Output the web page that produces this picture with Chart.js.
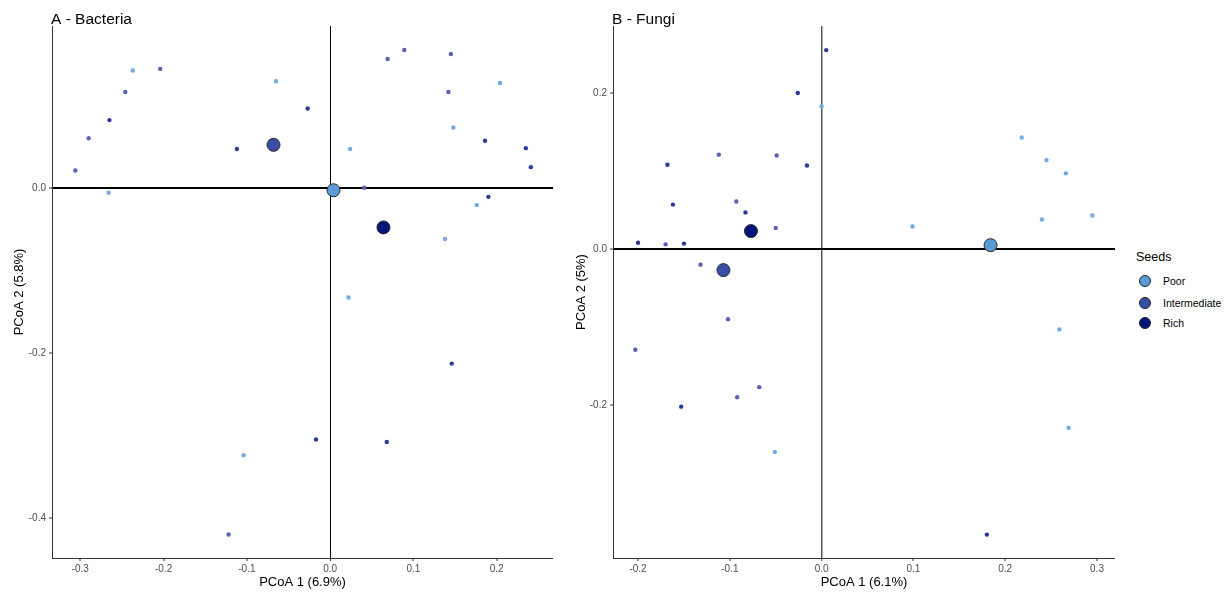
<!DOCTYPE html>
<html>
<head>
<meta charset="utf-8">
<script src="https://cdn.jsdelivr.net/npm/chart.js@4.4.1/dist/chart.umd.min.js"></script>
<style>
  body { margin: 0; background: #fff; font-family: "Liberation Sans", Arial, sans-serif; }
  #wrap { position: relative; width: 1230px; height: 593px; overflow: hidden; }
  canvas { position: absolute; top: 0; }
  #c1 { left: 0; }
  #c2 { left: 560px; }
  .leg { position: absolute; color: #000; white-space: nowrap; }
  .leg-title { left: 1136px; top: 250px; font-size: 12.5px; }
  .leg-item { left: 1139px; font-size: 10.5px; line-height: 12px; }
  .leg-item i { display: inline-block; width: 10px; height: 10px; border: 1px solid #222; border-radius: 50%; vertical-align: middle; margin-right: 12px; }
  .leg-item span { vertical-align: middle; }
</style>
</head>
<body>
<div id="wrap">
  <canvas id="c1" width="570" height="593"></canvas>
  <canvas id="c2" width="570" height="593"></canvas>
  <div class="leg leg-title">Seeds</div>
  <div class="leg leg-item" style="top:274px"><i style="background:#5b9bd5"></i><span>Poor</span></div>
  <div class="leg leg-item" style="top:296px"><i style="background:#3a4ea6"></i><span>Intermediate</span></div>
  <div class="leg leg-item" style="top:316px"><i style="background:#00157a"></i><span>Rich</span></div>
</div>
<script>
// ---- data ----
const groups = ['Poor', 'Intermediate', 'Rich'];

// A - Bacteria: samples, [PCoA1, PCoA2]
const bactPoor = [[-0.266, -0.006], [-0.237, 0.142], [-0.065, 0.129], [0.024, 0.047], [0.138, -0.062],
  [0.148, 0.073], [0.176, -0.021], [0.204, 0.127], [-0.104, -0.324], [0.022, -0.133]];
const bactInter = [[-0.306, 0.021], [-0.290, 0.060], [-0.246, 0.116], [-0.204, 0.144], [0.041, 0.000],
  [0.069, 0.156], [0.089, 0.167], [0.142, 0.116], [0.145, 0.162], [-0.122, -0.420]];
const bactRich = [[-0.265, 0.082], [-0.112, 0.047], [-0.027, 0.096], [0.186, 0.057], [0.190, -0.011],
  [0.235, 0.048], [0.241, 0.025], [0.146, -0.213], [-0.017, -0.305], [0.068, -0.308]];
// group centroids (Poor, Intermediate, Rich)
const bactCentroids = [[0.004, -0.003], [-0.068, 0.052], [0.064, -0.048]];

// B - Fungi
const fungiPoor = [[0.000, 0.183], [0.218, 0.143], [0.245, 0.114], [0.266, 0.097], [0.240, 0.038],
  [0.295, 0.043], [0.099, 0.029], [-0.051, -0.260], [0.259, -0.103], [0.269, -0.229]];
const fungiInter = [[-0.112, 0.121], [-0.049, 0.120], [-0.093, 0.061], [-0.050, 0.027], [-0.170, 0.006],
  [-0.132, -0.020], [-0.102, -0.090], [-0.203, -0.129], [-0.068, -0.177], [-0.092, -0.190]];
const fungiRich = [[0.005, 0.255], [-0.026, 0.200], [-0.168, 0.108], [-0.016, 0.107], [-0.162, 0.057],
  [-0.083, 0.047], [-0.200, 0.008], [-0.150, 0.007], [-0.153, -0.202], [0.180, -0.366]];
const fungiCentroids = [[0.184, 0.005], [-0.107, -0.027], [-0.077, 0.023]];

// axis ticks
const bactXTicks = [-0.3, -0.2, -0.1, 0.0, 0.1, 0.2];
const bactYTicks = [-0.4, -0.2, 0.0];
const fungiXTicks = [-0.2, -0.1, 0.0, 0.1, 0.2, 0.3];
const fungiYTicks = [-0.2, 0.0, 0.2];

const FONT = '"Liberation Sans", Arial, sans-serif';
const smallColors = ['#72aae2', '#5a62b6', '#2b3a97'];
const bigColors = ['#5b9bd5', '#3a4ea6', '#00157a'];

const toPts = arr => arr.map(p => ({ x: p[0], y: p[1] }));

function buildDatasets(samples, centroids) {
  const ds = samples.map((s, i) => ({
    label: groups[i] + ' samples',
    data: toPts(s),
    backgroundColor: smallColors[i],
    borderWidth: 0,
    pointRadius: 2.2
  }));
  centroids.forEach((c, i) => ds.push({
    label: groups[i],
    data: toPts([c]),
    backgroundColor: bigColors[i],
    borderColor: '#2a2a2a',
    borderWidth: 1,
    pointRadius: 6.5
  }));
  return ds;
}

// panel title ("A - Bacteria") drawn at top-left of the plot area
const panelTitle = {
  id: 'panelTitle',
  afterDraw(chart, args, opts) {
    const { ctx, chartArea } = chart;
    ctx.save();
    ctx.font = '15.5px ' + FONT;
    ctx.fillStyle = '#000';
    ctx.textBaseline = 'alphabetic';
    ctx.fillText(opts.text, chartArea.left - 1, 24);
    ctx.restore();
  }
};

function makePanel(id, cfg) {
  const zeroGrid = (col, w) => ({
    color: c => (c.tick && Math.abs(c.tick.value) < 1e-9) ? col : 'rgba(0,0,0,0)',
    lineWidth: c => (c.tick && Math.abs(c.tick.value) < 1e-9) ? w : 0,
    drawTicks: true,
    tickLength: 3,
    tickColor: '#333',
    tickWidth: 1
  });
  return new Chart(document.getElementById(id), {
    type: 'scatter',
    data: { datasets: buildDatasets(cfg.samples, cfg.centroids) },
    plugins: [panelTitle],
    options: {
      responsive: false,
      animation: false,
      layout: { padding: { top: 26, right: cfg.padRight, left: 0, bottom: 0 } },
      plugins: {
        legend: { display: false },
        tooltip: { enabled: false },
        panelTitle: { text: cfg.title }
      },
      scales: {
        x: {
          type: 'linear',
          min: cfg.xMin, max: cfg.xMax,
          afterBuildTicks: s => { s.ticks = cfg.xTicks.map(v => ({ value: v })); },
          afterFit: s => { s.height = 35; },
          border: { display: true, color: '#333', width: 1 },
          grid: zeroGrid(cfg.vColor, cfg.vWidth),
          ticks: {
            color: '#4d4d4d', font: { family: FONT, size: 10 }, padding: 2,
            maxRotation: 0, autoSkip: false,
            callback: v => Number(v).toFixed(1)
          },
          title: {
            display: true, text: cfg.xTitle, color: '#000',
            font: { family: FONT, size: 13 }, padding: { top: 0, bottom: 3 }
          }
        },
        y: {
          type: 'linear',
          min: cfg.yMin, max: cfg.yMax,
          afterBuildTicks: s => { s.ticks = cfg.yTicks.map(v => ({ value: v })); },
          afterFit: s => { s.width = cfg.yWidth; },
          border: { display: true, color: '#333', width: 1 },
          grid: zeroGrid('#000', 2),
          ticks: {
            color: '#4d4d4d', font: { family: FONT, size: 10 }, padding: 3,
            autoSkip: false,
            callback: v => Number(v).toFixed(1)
          },
          title: {
            display: true, text: cfg.yTitle, color: '#000',
            font: { family: FONT, size: 13 }, padding: { top: cfg.yTitlePad, bottom: 0 }
          }
        }
      }
    }
  });
}

makePanel('c1', {
  title: 'A - Bacteria',
  samples: [bactPoor, bactInter, bactRich],
  centroids: bactCentroids,
  xMin: -0.334, xMax: 0.2676, yMin: -0.4485, yMax: 0.196,
  xTicks: bactXTicks, yTicks: bactYTicks,
  xTitle: 'PCoA 1 (6.9%)', yTitle: 'PCoA 2 (5.8%)',
  yWidth: 52, padRight: 17, yTitlePad: 12,
  vColor: '#000', vWidth: 1
});

makePanel('c2', {
  title: 'B - Fungi',
  samples: [fungiPoor, fungiInter, fungiRich],
  centroids: fungiCentroids,
  xMin: -0.2273, xMax: 0.3196, yMin: -0.396, yMax: 0.2859,
  xTicks: fungiXTicks, yTicks: fungiYTicks,
  xTitle: 'PCoA 1 (6.1%)', yTitle: 'PCoA 2 (5%)',
  yWidth: 53, padRight: 15, yTitlePad: 14,
  vColor: '#555', vWidth: 1.5
});
</script>
</body>
</html>
